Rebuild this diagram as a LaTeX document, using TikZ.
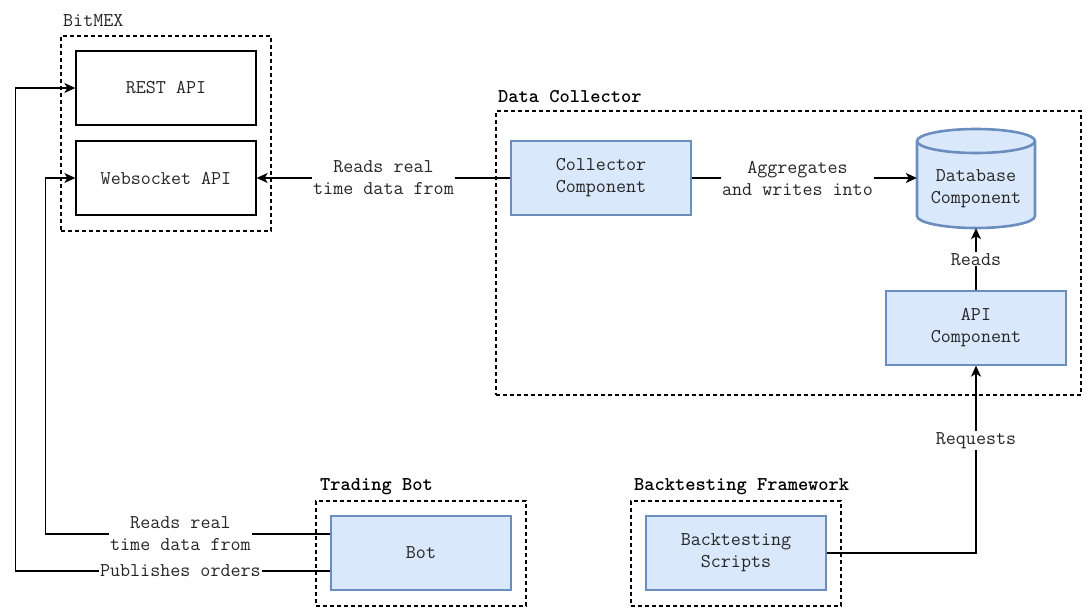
\documentclass[tikz,border=0pt]{standalone}
\usepackage{fontspec}
\usetikzlibrary{arrows.meta}
\definecolor{bfill}{HTML}{DAE8FC}
\definecolor{bdraw}{HTML}{6C8EBF}
\begin{document}
\begin{tikzpicture}[x=1pt,y=-1pt,
  txt/.style={font=\ttfamily\fontsize{19.5}{22}\selectfont, align=center, text=black!85},
  whitebox/.style={txt, draw=black, line width=1.3pt, minimum width=180pt, minimum height=74pt, inner sep=0pt},
  bluebox/.style={txt, draw=bdraw, fill=bfill, line width=1.3pt, minimum width=180pt, minimum height=74pt, inner sep=0pt},
  group/.style={draw=black, dash pattern=on 4pt off 3pt, line width=1.2pt, inner sep=0pt},
  edgelbl/.style={txt, fill=white, inner sep=1pt},
  arr/.style={-{Stealth[length=11pt,width=10pt,inset=3pt]}, line width=1.4pt},
  ttl/.style={font=\ttfamily\bfseries\fontsize{19.5}{22}\selectfont, anchor=west, inner sep=0pt},
  ttlplain/.style={txt, anchor=west, inner sep=0pt},
  dbshape/.style={draw=bdraw, fill=bfill, line width=2.6pt}]
\useasboundingbox (0,0) rectangle (1089,613);

% groups
\node[group, minimum width=210pt, minimum height=195pt] (bitmex) at (166,133.5) {};
\node[ttlplain] (bitmexT) at (63,21) {BitMEX};
\node[group, minimum width=585pt, minimum height=284pt] (dc) at (788.5,253) {};
\node[ttl] (dcT) at (498,97) {Data Collector};
\node[group, minimum width=210pt, minimum height=105pt] (tb) at (421,553.5) {};
\node[ttl] (tbT) at (320,487) {Trading Bot};
\node[group, minimum width=210pt, minimum height=105pt] (bf) at (736,553.5) {};
\node[ttl] (bfT) at (634,487) {Backtesting Framework};

% boxes
\node[whitebox] (rest) at (166,88) {REST API};
\node[whitebox] (ws) at (166,178) {Websocket API};
\node[bluebox] (coll) at (601,178) {Collector\\Component};
\node[bluebox] (api) at (976,328) {API\\Component};
\node[bluebox] (bot) at (421,553) {Bot};
\node[bluebox] (bt) at (736,553) {Backtesting\\Scripts};

% database cylinder
\path[dbshape] (917,141) -- (917,216) arc[start angle=180, end angle=0, x radius=59, y radius=12]
  -- (1035,141) arc[start angle=0, end angle=-180, x radius=59, y radius=12] -- cycle;
\draw[draw=bdraw, line width=2.6pt] (917,141) arc[start angle=180, end angle=0, x radius=59, y radius=12];
\node[txt, minimum width=118pt, minimum height=78pt, inner sep=0pt] (db) at (976,189) {Database\\Component};

% connectors
\draw[arr] (coll.west) -- node[edgelbl] {Reads real\\time data from} (ws.east);
\draw[arr] (coll.east) -- node[edgelbl, pos=0.47] {Aggregates\\and writes into} (coll -| db.west);
\draw[arr] (api.north) -- node[edgelbl] {Reads} (db.south);
\draw[arr] (bt.east) -| node[edgelbl, pos=0.8] {Requests} (api.south);
\draw[arr] ([yshift=19pt]bot.west) -| node[edgelbl, pos=0.263] {Reads real\\time data from} ([xshift=-30pt]ws.west) -- (ws.west);
\draw[arr] ([yshift=-18pt]bot.west) -| node[edgelbl, pos=0.238] {Publishes orders} ([xshift=-60pt]rest.west) -- (rest.west);
\end{tikzpicture}
\end{document}
